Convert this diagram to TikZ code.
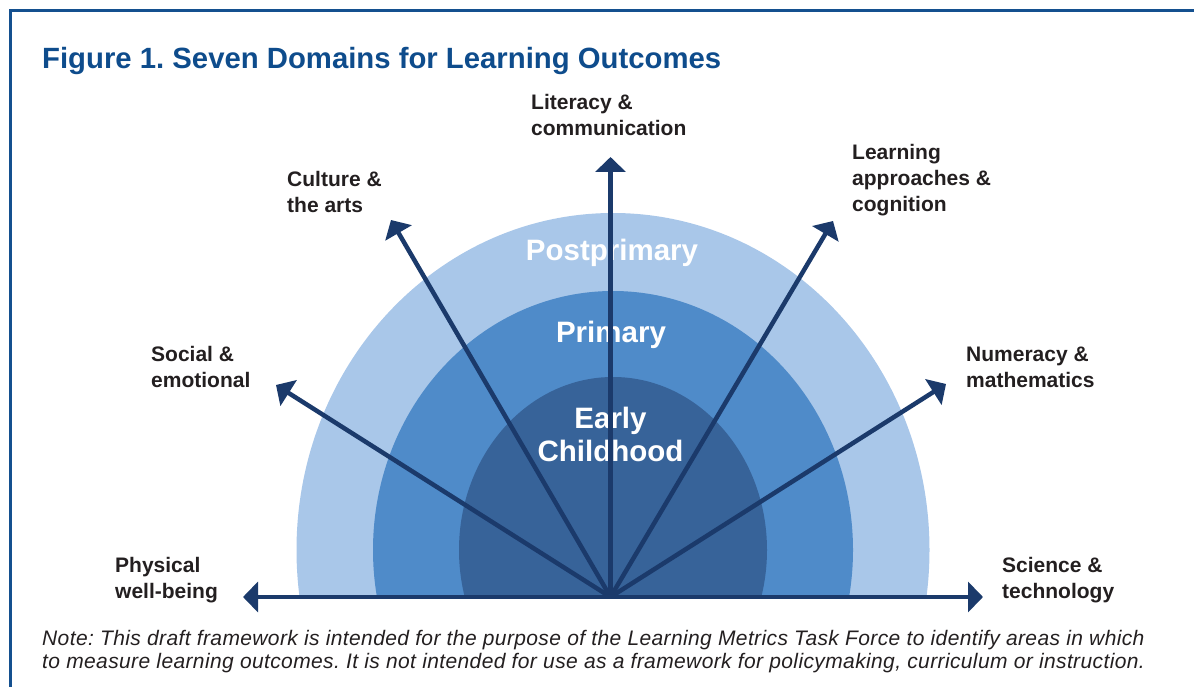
\documentclass[tikz,border=0pt]{standalone}
\usepackage{fontspec}
\setmainfont{Liberation Sans}
\usetikzlibrary{arrows.meta}
\definecolor{outerc}{HTML}{A9C7E9}
\definecolor{midc}{HTML}{4F8BC9}
\definecolor{innerc}{HTML}{376399}
\definecolor{arrc}{HTML}{1B3A6B}
\definecolor{titlec}{HTML}{0E4C8C}
\definecolor{framec}{HTML}{14508F}
\definecolor{labc}{HTML}{231F20}
\tikzset{
  arr/.style={draw=arrc, line width=4.5pt, -{Triangle[length=15pt,width=30pt]}},
  lab/.style={anchor=base west, inner sep=0pt, text=labc, font=\fontsize{21}{26}\selectfont\bfseries},
  ring/.style={anchor=base, inner sep=0pt, text=white, font=\fontsize{29.5}{34}\selectfont\bfseries},
}
\frenchspacing
\begin{document}
\frenchspacing
\begin{tikzpicture}[x=1pt,y=-1pt]
\useasboundingbox (0,0) rectangle (1194,687);
% frame
\draw[framec, line width=3pt] (10,690) -- (10,10.5) -- (1196,10.5);
% title
\node[anchor=base west, inner sep=0pt, text=titlec, font=\fontsize{29.3}{34}\selectfont\bfseries] (title) at (42,69) {Figure 1. Seven Domains for Learning Outcomes};
% rings
\begin{scope}
\clip (0,0) rectangle (1194,597);
\fill[outerc] (613,550) ellipse [x radius=316.5pt, y radius=337pt];
\fill[midc] (613,550) ellipse [x radius=240pt, y radius=259pt];
\fill[innerc] (613,550) ellipse [x radius=154pt, y radius=173pt];
\end{scope}
\node[ring] (post) at (612,261) {Postprimary};
\node[ring] (prim) at (611,342) {Primary};
\node[ring, align=center] (early) at (610.5,428) {\begin{tabular}[t]{@{}c@{}}Early\\[-0.5pt]Childhood\end{tabular}};
% arrows
\coordinate (O) at (610.5,597);
\coordinate (tL) at (243,597);
\coordinate (tR) at (983,597);
\coordinate (tU) at (610.5,157);
\coordinate (tC) at (391,220);
\coordinate (tA) at (833,221);
\coordinate (tS) at (276,385);
\coordinate (tN) at (946,384);
\foreach \t in {tL,tR,tU,tC,tA,tS,tN} \draw[arr] (O) -- (\t);
% labels
\node[lab] (lit) at (531,110) {\begin{tabular}[t]{@{}l@{}}Literacy \&\\communication\end{tabular}};
\node[lab] (cul) at (287,187) {\begin{tabular}[t]{@{}l@{}}Culture \&\\the arts\end{tabular}};
\node[lab] (lap) at (852,160) {\begin{tabular}[t]{@{}l@{}}Learning\\approaches \&\\cognition\end{tabular}};
\node[lab] (soc) at (151,361) {\begin{tabular}[t]{@{}l@{}}Social \&\\emotional\end{tabular}};
\node[lab] (num) at (966,361) {\begin{tabular}[t]{@{}l@{}}Numeracy \&\\mathematics\end{tabular}};
\node[lab] (phy) at (115,572) {\begin{tabular}[t]{@{}l@{}}Physical\\well-being\end{tabular}};
\node[lab] (sci) at (1002,572) {\begin{tabular}[t]{@{}l@{}}Science \&\\technology\end{tabular}};
% note
\node[anchor=base west, inner sep=0pt, text=labc, font=\fontsize{21}{23}\selectfont\itshape\addfontfeature{LetterSpace=1.8}] (note) at (42,645) {\begin{tabular}[t]{@{}l@{}}Note: This draft framework is intended for the purpose of the Learning Metrics Task Force to identify areas in which\\to measure learning outcomes. It is not intended for use as a framework for policymaking, curriculum or instruction.\end{tabular}};
\end{tikzpicture}
\end{document}
